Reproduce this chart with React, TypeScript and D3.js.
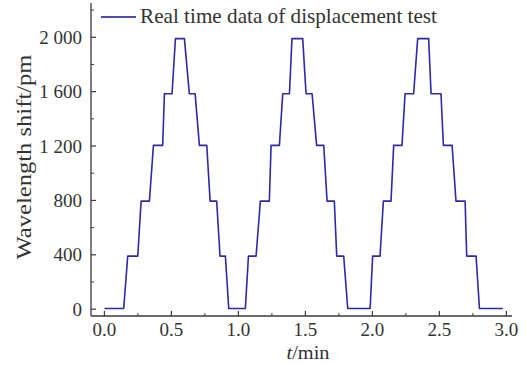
import React from "react";
import * as d3 from "d3";

const times = [
  0, 0.144, 0.174, 0.249, 0.274, 0.336, 0.366, 0.435, 0.448, 0.505, 0.53,
  0.597, 0.634, 0.677, 0.709, 0.764, 0.789, 0.838, 0.863, 0.903, 0.928,
  1.052, 1.075, 1.132, 1.164, 1.231, 1.244, 1.306, 1.331, 1.381, 1.4,
  1.48, 1.505, 1.55, 1.584, 1.637, 1.662, 1.716, 1.734, 1.786, 1.816,
  1.983, 2.002, 2.057, 2.082, 2.139, 2.159, 2.221, 2.244, 2.308, 2.338,
  2.42, 2.438, 2.512, 2.53, 2.595, 2.624, 2.692, 2.704, 2.774, 2.799, 2.973,
];
const shifts = [
  5, 5, 390, 390, 795, 795, 1205, 1205, 1585, 1585, 1990,
  1990, 1585, 1585, 1205, 1205, 795, 795, 390, 390, 5,
  5, 390, 390, 795, 795, 1205, 1205, 1585, 1585, 1990,
  1990, 1585, 1585, 1205, 1205, 795, 795, 390, 390, 5,
  5, 390, 390, 795, 795, 1205, 1205, 1585, 1585, 1990,
  1990, 1585, 1585, 1205, 1205, 795, 795, 390, 390, 5, 5,
];
const xTicks = [0, 0.5, 1.0, 1.5, 2.0, 2.5, 3.0];
const xMinor = [0.25, 0.75, 1.25, 1.75, 2.25, 2.75];
const yTicks = [0, 400, 800, 1200, 1600, 2000];
const yMinor = [200, 600, 1000, 1400, 1800, 2200];
const legendLabel = "Real time data of displacement test";

const W = 527;
const H = 365;
const left = 91;
const right = 512;
const top = 3;
const bottom = 316;

export default function App() {
  const x = d3.scaleLinear().domain([-0.1, 3.042]).range([left, right]);
  const y = d3.scaleLinear().domain([-50, 2252]).range([bottom, top]);
  const locale = d3.formatLocale({ decimal: ".", thousands: " ", grouping: [3], currency: ["", ""] });
  const fy = locale.format(",");
  const fx = d3.format(".1f");
  const pts = times.map((t, i) => [t, shifts[i]] as [number, number]);
  const line = d3.line<[number, number]>().x((d) => x(d[0])).y((d) => y(d[1]));
  const axisColor = "#3a3a3a";
  const textColor = "#333";
  const lineColor = "#2b2ba6";
  const font = "'Liberation Serif', 'Times New Roman', serif";
  return (
    <svg width={W} height={H} style={{ position: "absolute", left: 0, top: 0, background: "#fff" }} fontFamily={font}>
      <rect x={0} y={0} width={W} height={H} fill="#fff" />
      {/* axes */}
      <line x1={left} y1={top} x2={left} y2={bottom} stroke={axisColor} strokeWidth={1.3} />
      <line x1={left} y1={bottom} x2={right} y2={bottom} stroke={axisColor} strokeWidth={1.3} />
      {yTicks.map((v) => (
        <g key={"y" + v}>
          <line x1={left} x2={left + 5} y1={y(v)} y2={y(v)} stroke={axisColor} strokeWidth={1.2} />
          <text x={left - 9} y={y(v)} dy="0.35em" textAnchor="end" fontSize={19} fill={textColor}>
            {fy(v)}
          </text>
        </g>
      ))}
      {yMinor.map((v) => (
        <line key={"ym" + v} x1={left} x2={left + 3} y1={y(v)} y2={y(v)} stroke={axisColor} strokeWidth={1} />
      ))}
      {xTicks.map((v) => (
        <g key={"x" + v}>
          <line x1={x(v)} x2={x(v)} y1={bottom} y2={bottom - 5} stroke={axisColor} strokeWidth={1.2} />
          <text x={x(v)} y={336} textAnchor="middle" fontSize={19} fill={textColor}>
            {fx(v)}
          </text>
        </g>
      ))}
      {xMinor.map((v) => (
        <line key={"xm" + v} x1={x(v)} x2={x(v)} y1={bottom} y2={bottom - 3} stroke={axisColor} strokeWidth={1} />
      ))}
      {/* axis titles */}
      <text x={308} y={359} textAnchor="middle" fontSize={19.5} fill={textColor} textLength={43} lengthAdjust="spacingAndGlyphs">
        <tspan fontStyle="italic">t</tspan>/min
      </text>
      <text
        transform={`translate(31, 157) rotate(-90)`}
        textAnchor="middle"
        fontSize={21}
        fill={textColor}
        textLength={205}
        lengthAdjust="spacingAndGlyphs"
      >
        Wavelength shift/pm
      </text>
      {/* data */}
      <path d={line(pts) ?? ""} fill="none" stroke={lineColor} strokeWidth={1.6} strokeLinejoin="round" />
      {/* legend */}
      <line x1={101} x2={136} y1={17} y2={17} stroke="#4b4bb0" strokeWidth={1.8} />
      <text x={140} y={23} fontSize={21} fill={textColor} textLength={297} lengthAdjust="spacingAndGlyphs">
        {legendLabel}
      </text>
    </svg>
  );
}
